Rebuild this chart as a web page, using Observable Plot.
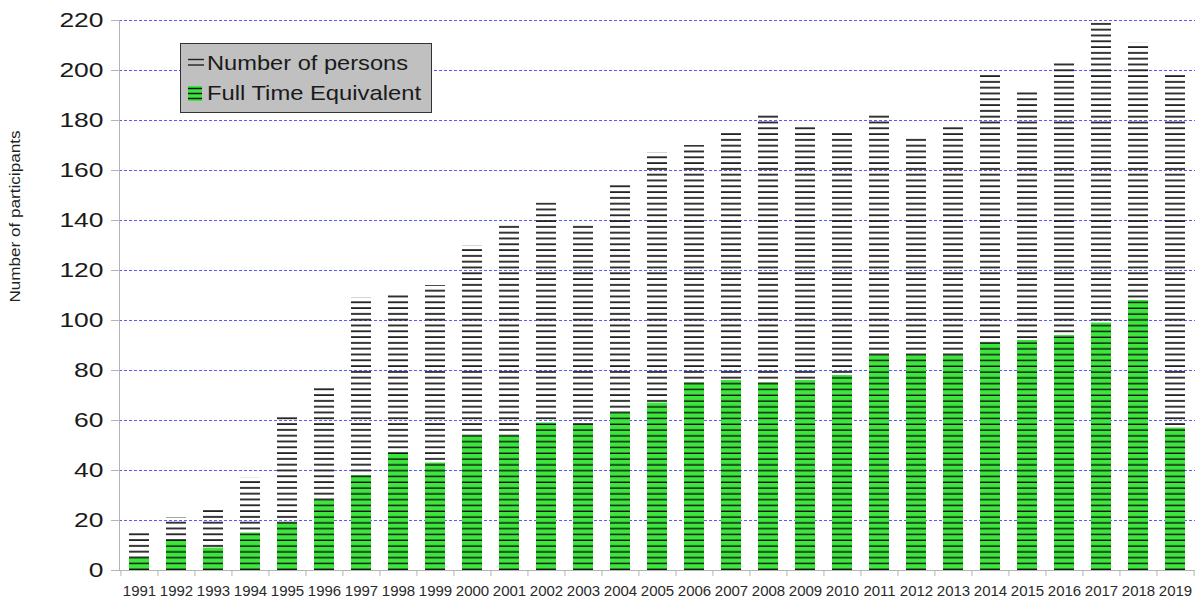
<!DOCTYPE html>
<html><head><meta charset="utf-8">
<script src="https://cdn.jsdelivr.net/npm/d3@7"></script>
<script src="https://cdn.jsdelivr.net/npm/@observablehq/plot@0.6"></script>
<style>
body{margin:0;background:#fff;}
#wrap{position:relative;width:1196px;height:601px;}
</style></head><body><div id="wrap"></div>
<script>
const years = [1991,1992,1993,1994,1995,1996,1997,1998,1999,2000,2001,2002,2003,2004,2005,2006,2007,2008,2009,2010,2011,2012,2013,2014,2015,2016,2017,2018,2019];
const persons = [16,21,25,37,62,74,109,110,114,130,139,147,138,155,167,170,175,182,178,176,182,174,178,198,192,203,219,211,199];
const fte = [5,12,9,15,19,28,38,47,43,54,54,59,58,63,67,75,76,75,76,78,86,86,86,91,92,94,99,108,57];
const yTicks = [0,20,40,60,80,100,120,140,160,180,200,220];
const legendLabels = ["Number of persons","Full Time Equivalent"];
const yTitle = "Number of participants";

const data = years.map((y,i)=>({year:String(y), persons:persons[i], fte:fte[i]}));
const W = 1196, H = 601, ML = 119, MR = 1, MT = 20, MB = 31;
const step = (W - ML - MR) / years.length;
const green = "#3de63d";

const svg = Plot.plot({
  width: W, height: H,
  marginLeft: ML, marginRight: MR, marginTop: MT, marginBottom: MB,
  style: {fontFamily: "'Liberation Sans', Arial, sans-serif", background: "#fff", overflow: "visible"},
  x: {type: "band", domain: years.map(String), paddingInner: 0.46, paddingOuter: 0.23, axis: null},
  y: {domain: [0, 220], axis: null},
  marks: [
    Plot.gridY(yTicks.filter(t => t > 0), {stroke: "#3c3cff", strokeOpacity: 0.85, strokeWidth: 1, strokeDasharray: "3,2"}),
    Plot.barY(data, {x: "year", y: "persons", fill: "url(#hatchP)"}),
    Plot.barY(data, {x: "year", y: "fte", fill: "url(#hatchG)"}),
    Plot.ruleY([0], {stroke: "#b3b3b3", strokeWidth: 1}),
    Plot.frame({anchor: "left", stroke: "#b3b3b3"}),
    Plot.axisY(yTicks, {tickSize: 8, tickPadding: 8, stroke: "#b3b3b3", fill: "#1a1a1a", fontSize: 21, label: null}),
    Plot.axisX({tickSize: 6, dx: -step / 2, stroke: "#b3b3b3", tickFormat: () => "", label: null}),
    Plot.axisX([String(years[years.length - 1])], {tickSize: 6, dx: step / 2, stroke: "#b3b3b3", tickFormat: () => "", label: null}),
    Plot.axisX({tickSize: 0, tickPadding: 15, fill: "#2a2a2a", fontSize: 15, label: null}),
    Plot.text([yTitle], {frameAnchor: "left", dx: -104, dy: 7, rotate: -90, fontSize: 14, fill: "#222"})
  ]
});

const s = d3.select(svg);
const defs = s.insert("defs", ":first-child");
function hatch(id, bg, lineColor, h, lw) {
  const p = defs.append("pattern").attr("id", id).attr("patternUnits", "userSpaceOnUse")
    .attr("width", 40).attr("height", h).attr("patternTransform", `translate(0,${H - MB})`);
  if (bg) p.append("rect").attr("width", 40).attr("height", h).attr("fill", bg);
  p.append("rect").attr("x", 0).attr("y", h - lw).attr("width", 40).attr("height", lw).attr("fill", lineColor);
}
hatch("hatchP", null, "#222", 5.8, 1.8);
hatch("hatchG", green, "#111", 5.8, 1.4);

// stretch y tick labels like the original rendering
s.selectAll('g[aria-label="y-axis tick label"] text').each(function() {
  const n = this.textContent.length;
  this.setAttribute("textLength", n * 14.7);
  this.setAttribute("lengthAdjust", "spacingAndGlyphs");
});
s.selectAll('g[aria-label="text"] text').each(function() {
  this.setAttribute("textLength", 172);
  this.setAttribute("lengthAdjust", "spacingAndGlyphs");
});

// legend
const lg = s.append("g").attr("font-family", "'Liberation Sans', Arial, sans-serif").attr("font-size", 21)
  .attr("fill", "#1a1a1a").attr("text-anchor", "start");
lg.append("rect").attr("x", 180.5).attr("y", 43.5).attr("width", 251).attr("height", 69).attr("fill", "#c0c0c0").attr("stroke", "#333");
lg.append("line").attr("x1", 188).attr("x2", 204).attr("y1", 59.5).attr("y2", 59.5).attr("stroke", "#222").attr("stroke-width", 1.4);
lg.append("line").attr("x1", 188).attr("x2", 204).attr("y1", 65).attr("y2", 65).attr("stroke", "#222").attr("stroke-width", 1.4);
lg.append("rect").attr("x", 188).attr("y", 86).attr("width", 14).attr("height", 15).attr("fill", green);
[88.5, 93.5, 98.5].forEach(y => lg.append("line").attr("x1", 188).attr("x2", 202).attr("y1", y).attr("y2", y).attr("stroke", "#111").attr("stroke-width", 1.5));
lg.append("text").attr("x", 207).attr("y", 70).attr("text-anchor", "start")
  .attr("textLength", 201).attr("lengthAdjust", "spacingAndGlyphs").text(legendLabels[0]);
lg.append("text").attr("x", 207).attr("y", 100).attr("text-anchor", "start")
  .attr("textLength", 214).attr("lengthAdjust", "spacingAndGlyphs").text(legendLabels[1]);

document.getElementById("wrap").appendChild(svg);
</script></body></html>
